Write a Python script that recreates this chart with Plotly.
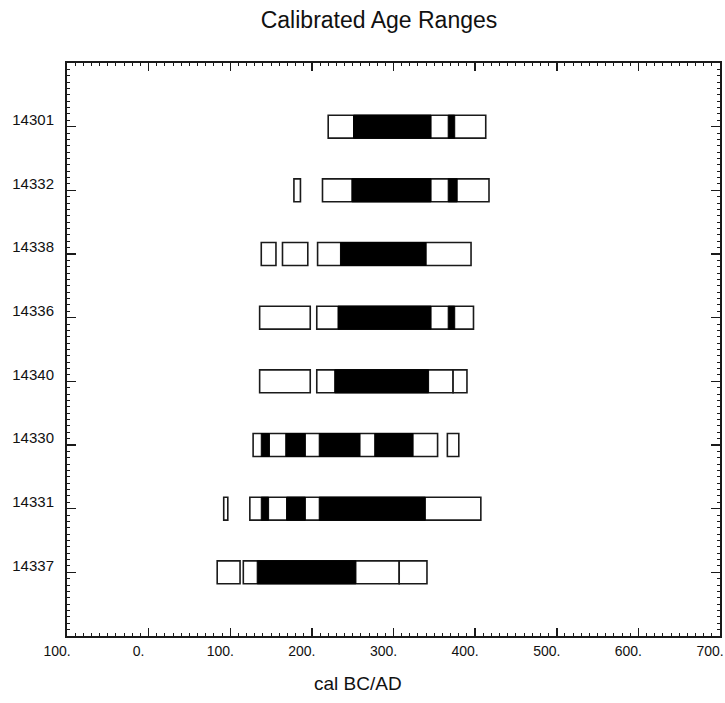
import plotly.graph_objects as go

# ---- data ----
samples = ["14301", "14332", "14338", "14336", "14340", "14330", "14331", "14337"]

# 2-sigma ranges (outlined boxes)
two_sigma_sample = ["14301",
                    "14332", "14332",
                    "14338", "14338", "14338",
                    "14336", "14336",
                    "14340", "14340", "14340",
                    "14330", "14330",
                    "14331", "14331",
                    "14337", "14337", "14337"]
two_sigma_start = [220,
                   178, 213,
                   138, 164, 207,
                   136, 206,
                   136, 206, 373,
                   128, 366,
                   92, 124,
                   84, 116, 307]
two_sigma_end = [413,
                 186, 417,
                 156, 195, 395,
                 198, 398,
                 198, 373, 390,
                 354, 380,
                 97, 407,
                 112, 307, 341]

# 1-sigma ranges (filled boxes)
one_sigma_sample = ["14301", "14301",
                    "14332", "14332",
                    "14338",
                    "14336", "14336",
                    "14340",
                    "14330", "14330", "14330", "14330",
                    "14331", "14331", "14331",
                    "14337"]
one_sigma_start = [251, 367,
                   249, 367,
                   235,
                   232, 367,
                   228,
                   138, 168, 209, 277,
                   138, 169, 209,
                   133]
one_sigma_end = [346, 375,
                 346, 378,
                 340,
                 346, 375,
                 343,
                 148, 192, 259, 324,
                 147, 192, 339,
                 254]

x_tick_vals = [-100, 0, 100, 200, 300, 400, 500, 600, 700]
x_tick_text = ["100.", "0.", "100.", "200.", "300.", "400.", "500.", "600.", "700."]

# ---- figure ----
n = len(samples)
pos = {s: n - 1 - i for i, s in enumerate(samples)}

fig = go.Figure()
fig.add_trace(go.Bar(
    orientation="h",
    y=[pos[s] for s in two_sigma_sample],
    base=two_sigma_start,
    x=[e - s for s, e in zip(two_sigma_start, two_sigma_end)],
    width=0.36,
    marker=dict(color="white", line=dict(color="#1a1a1a", width=1.6)),
    hoverinfo="skip",
))
fig.add_trace(go.Bar(
    orientation="h",
    y=[pos[s] for s in one_sigma_sample],
    base=one_sigma_start,
    x=[e - s for s, e in zip(one_sigma_start, one_sigma_end)],
    width=0.36,
    marker=dict(color="black", line=dict(color="black", width=1)),
    hoverinfo="skip",
))

sans = "Liberation Sans, Arial, sans-serif"
W, H = 725, 703

fig.update_layout(
    width=W, height=H,
    margin=dict(l=67, r=5, t=62.5, b=67),
    paper_bgcolor="white", plot_bgcolor="white",
    showlegend=False, barmode="overlay",
    title=dict(text="Calibrated Age Ranges", x=379 / W, xref="container", xanchor="center",
               y=1 - 20 / H, yref="container", yanchor="middle",
               font=dict(family=sans, size=23, color="#111")),
    annotations=[dict(text="cal BC/AD", xref="paper", yref="paper",
                      x=(358 - 67) / 653, y=(636 - 684) / 573.5,
                      xanchor="center", yanchor="middle", showarrow=False,
                      font=dict(family=sans, size=19, color="#111"))],
)
fig.update_xaxes(
    range=[-100, 700], tickmode="array", tickvals=x_tick_vals, ticktext=x_tick_text,
    ticks="inside", ticklen=8, tickwidth=1.5, tickcolor="#1a1a1a",
    minor=dict(dtick=10, tick0=0, ticks="inside", ticklen=3, tickwidth=1, tickcolor="#1a1a1a"),
    showline=True, linecolor="#1a1a1a", linewidth=2, mirror="ticks",
    showgrid=False, zeroline=False, automargin=False,
    tickfont=dict(family=sans, size=14, color="#111"),
    ticklabelshift=-10, ticklabeloverflow="allow", ticklabelstandoff=1,
)
fig.update_yaxes(
    range=[-1, n], tickmode="array", tickvals=[pos[s] for s in samples], ticktext=samples,
    ticks="inside", ticklen=9, tickwidth=1.5, tickcolor="#1a1a1a",
    minor=dict(dtick=0.1, tick0=0, ticks="inside", ticklen=3, tickwidth=1, tickcolor="#1a1a1a"),
    showline=True, linecolor="#1a1a1a", linewidth=2, mirror="ticks",
    showgrid=False, zeroline=False, automargin=False,
    tickfont=dict(family=sans, size=15, color="#111"),
    ticklabelshift=-7, ticklabelstandoff=8,
)

fig.write_html(
    "out.html",
    config={"displayModeBar": False, "staticPlot": True},
    post_script="document.body.style.margin='0';document.body.style.overflow='hidden';",
)
